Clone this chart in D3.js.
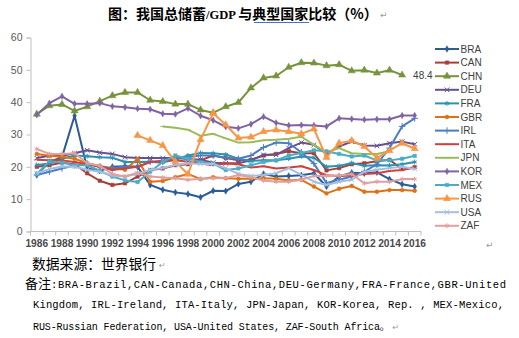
<!DOCTYPE html>
<html><head><meta charset="utf-8">
<script src="https://cdn.jsdelivr.net/npm/d3@7"></script>
<style>html,body{margin:0;padding:0;background:#fff}svg{display:block}</style>
</head><body>
<svg id="c" width="519" height="338"></svg>
<script>
const years = [1986,1987,1988,1989,1990,1991,1992,1993,1994,1995,1996,1997,1998,1999,2000,2001,2002,2003,2004,2005,2006,2007,2008,2009,2010,2011,2012,2013,2014,2015,2016];
const yTicks = [0,10,20,30,40,50,60];
const xTickLabels = [1986,1988,1990,1992,1994,1996,1998,2000,2002,2004,2006,2008,2010,2012,2014,2016];
const countries = ["BRA","CAN","CHN","DEU","FRA","GBR","IRL","ITA","JPN","KOR","MEX","RUS","USA","ZAF"];
const BRA = [17.5,21.5,23.0,35.8,19.5,18.8,20.0,20.2,20.0,14.4,12.9,12.1,11.6,10.6,12.6,12.5,14.7,15.4,17.8,17.0,17.2,17.4,18.0,13.9,17.0,18.2,18.0,18.3,16.2,14.6,13.9];
const CAN = [20.0,20.5,21.3,20.8,18.0,15.7,14.4,14.9,17.0,19.0,19.5,20.5,20.8,22.0,23.5,22.7,22.0,22.2,23.5,24.0,24.8,24.2,24.2,18.9,19.6,20.8,21.1,21.7,22.2,19.3,19.9];
const CHN = [36.3,38.9,39.3,37.3,38.6,40.3,42.0,43.0,43.0,40.6,40.2,39.4,39.4,37.6,36.7,38.6,39.9,44.4,47.5,48.1,50.8,52.2,52.1,51.3,51.6,49.7,49.9,49.0,49.9,48.4,null];
const DEU = [22.7,23.4,23.4,24.2,25.1,24.4,24.0,23.0,22.7,22.7,22.7,22.7,22.4,22.2,21.3,21.1,21.1,22.0,23.7,23.7,25.8,27.5,26.8,24.0,26.3,27.8,26.6,26.5,27.3,27.8,27.0];
const FRA = [20.6,21.0,22.5,23.5,23.3,23.0,22.8,21.5,21.5,21.6,21.3,22.3,23.5,24.3,24.2,23.8,22.5,21.8,22.0,22.0,22.5,23.2,22.8,20.0,20.3,21.2,20.3,20.5,20.4,20.8,21.5];
const GBR = [24.0,23.4,23.1,22.5,21.1,20.3,19.6,19.1,22.4,15.4,15.6,16.8,17.8,16.2,16.8,16.5,16.3,16.3,16.5,16.3,15.8,16.0,13.9,11.8,13.2,14.1,12.3,12.3,12.8,12.8,12.6];
const IRL = [17.5,18.5,19.5,20.5,21.0,20.0,19.5,20.0,20.0,21.5,21.8,22.5,23.0,23.5,23.5,22.8,22.5,23.5,26.0,27.5,27.3,24.5,21.0,15.0,16.0,17.0,18.5,20.8,25.8,32.5,35.0];
const ITA = [22.2,22.0,22.0,21.5,20.8,20.0,19.0,19.5,20.0,21.5,21.8,22.0,21.6,21.0,20.5,21.0,20.8,19.8,20.2,19.5,19.8,20.2,19.0,17.4,17.2,17.3,17.8,18.0,18.7,19.0,19.8];
const JPN = [null,null,null,null,null,null,null,null,null,null,32.5,32.1,31.5,29.6,30.2,28.8,27.5,27.6,28.2,28.4,28.7,29.3,26.8,24.5,25.8,24.2,24.0,24.0,24.8,null,null];
const KOR = [36.1,39.7,41.8,39.5,39.5,39.7,38.7,38.4,38.0,37.8,36.4,36.3,38.1,35.8,34.4,32.4,31.9,33.2,35.5,33.6,32.8,32.9,32.8,32.5,35.0,34.8,34.6,34.7,34.7,35.9,35.9];
const MEX = [17.8,21.7,21.3,20.5,20.5,18.8,17.0,15.8,15.3,18.5,21.5,23.5,22.5,21.5,21.0,19.0,19.5,20.5,21.5,22.0,23.5,24.3,25.1,24.8,24.0,23.2,23.5,22.0,22.0,22.5,23.4];
const RUS = [null,null,null,null,null,null,null,null,29.7,28.2,26.6,21.6,17.7,28.4,36.6,33.0,28.9,29.2,30.9,31.4,30.9,30.2,31.7,22.9,27.3,28.1,26.3,22.7,25.0,27.3,25.6];
const USA = [18.0,19.3,20.1,20.0,19.1,18.5,17.3,17.0,17.8,19.1,19.6,20.6,21.1,20.9,20.9,19.6,17.8,17.2,17.5,18.0,19.6,17.5,15.4,14.4,15.4,16.0,18.5,19.1,19.6,20.0,19.3];
const ZAF = [25.5,24.0,24.0,24.2,21.1,20.3,17.8,17.0,18.2,17.0,16.7,16.5,16.0,16.3,16.5,16.5,17.5,16.8,15.8,15.4,15.4,16.0,17.2,17.2,17.3,17.8,14.9,15.4,15.4,16.2,16.2];
const seriesValues = [BRA,CAN,CHN,DEU,FRA,GBR,IRL,ITA,JPN,KOR,MEX,RUS,USA,ZAF];
const colors = ["#2C5C96","#A63F3B","#77933C","#67508F","#2B93AD","#DB7216","#4A7EC2","#D0403C","#9BBB59","#8064A2","#4BACC6","#F79646","#A5BEDF","#E0A09F"];
const lastLabel = "48.4";

const symDash = {draw(ctx,size){const w=Math.sqrt(size)*1.2;ctx.moveTo(-w/2,0);ctx.lineTo(w/2,0);}};
const markers = [d3.symbolDiamond,d3.symbolSquare,d3.symbolTriangle,d3.symbolTimes,d3.symbolAsterisk,d3.symbolCircle,d3.symbolPlus,symDash,symDash,d3.symbolDiamond,d3.symbolSquare,d3.symbolTriangle,d3.symbolTimes,d3.symbolAsterisk];
const strokeMarker = m => (m===d3.symbolTimes||m===d3.symbolAsterisk||m===d3.symbolPlus||m===symDash);

const svg = d3.select("#c");
const x = d3.scalePoint().domain(years).range([30.5,421]).padding(0.5);
const y = d3.scaleLinear().domain([0,60]).range([231.5,37.5]);

// Title
const title = svg.append("text").attr("x",108).attr("y",19)
  .attr("font-family","'Noto Sans CJK SC'").attr("font-weight","bold").attr("font-size",14).attr("fill","#000");
title.append("tspan").text("图：我国总储蓄");
title.append("tspan").attr("font-family","'Liberation Serif'").attr("font-size",12.5).text("/GDP ");
title.append("tspan").text("与典型国家比较（%）");
svg.append("line").attr("x1",254).attr("x2",309).attr("y1",22.5).attr("y2",22.5).attr("stroke","#4472C4").attr("stroke-width",1);
svg.append("text").attr("x",380).attr("y",18).attr("font-size",9).attr("fill","#999").attr("font-family","'DejaVu Sans'").text("↵");

// Y axis
const yAxis = svg.append("g").attr("transform","translate(30.5,0)")
  .call(d3.axisLeft(y).tickValues(yTicks).tickSize(4).tickPadding(4));
yAxis.select(".domain").attr("stroke","#BFBFBF");
yAxis.selectAll(".tick line").attr("stroke","#BFBFBF");
yAxis.selectAll(".tick text").attr("font-family","'Liberation Sans'").attr("font-size",10.5).attr("fill","#595959");

// X axis
const xg = svg.append("g");
xg.append("line").attr("x1",30.5).attr("x2",421).attr("y1",231.5).attr("y2",231.5).attr("stroke","#BFBFBF");
const step = x.step();
xg.selectAll("line.tk").data(years.concat([null])).join("line").attr("class","tk")
  .attr("x1",(d,i)=>30.5+i*step).attr("x2",(d,i)=>30.5+i*step)
  .attr("y1",231.5).attr("y2",235.5).attr("stroke","#BFBFBF");
xg.selectAll("text").data(xTickLabels).join("text")
  .attr("x",d=>x(d)).attr("y",246.5).attr("text-anchor","middle")
  .attr("font-family","'Liberation Sans'").attr("font-weight","bold").attr("font-size",10.2).attr("fill","#4a4a4a")
  .text(d=>d);

// Lines
const line = d3.line().defined(d=>d[1]!==null).x(d=>x(d[0])).y(d=>y(d[1]));
countries.forEach((c,i)=>{
  const pts = years.map((yr,j)=>[yr,seriesValues[i][j]]);
  const g = svg.append("g");
  g.append("path").datum(pts).attr("d",line).attr("fill","none").attr("stroke",colors[i]).attr("stroke-width",2).attr("stroke-linejoin","round");
  const m = markers[i];
  const sm = strokeMarker(m);
  g.selectAll("path.m").data(pts.filter(d=>d[1]!==null)).join("path").attr("class","m")
    .attr("transform",d=>`translate(${x(d[0])},${y(d[1])})`)
    .attr("d",d3.symbol().type(m).size(sm?16:(m===d3.symbolTriangle?22:12)))
    .attr("fill",sm?"none":colors[i]).attr("stroke",colors[i]).attr("stroke-width",sm?1:0.5);
});

// Data label
svg.append("text").attr("x",x(2015)+11).attr("y",y(48.4)+3.5)
  .attr("font-family","'Liberation Sans'").attr("font-size",10).attr("fill","#404040").text(lastLabel);

// Legend
const lg = svg.append("g");
countries.forEach((c,i)=>{
  const yy = 49 + i*13.6;
  lg.append("line").attr("x1",435).attr("x2",459).attr("y1",yy).attr("y2",yy).attr("stroke",colors[i]).attr("stroke-width",2);
  const m = markers[i]; const sm = strokeMarker(m);
  lg.append("path").attr("transform",`translate(447,${yy})`)
    .attr("d",d3.symbol().type(m).size(sm?16:(m===d3.symbolTriangle?22:12)))
    .attr("fill",sm?"none":colors[i]).attr("stroke",colors[i]).attr("stroke-width",sm?1:0.5);
  lg.append("text").attr("x",460.5).attr("y",yy+3.6).attr("font-family","'Liberation Sans'").attr("font-size",10).attr("fill","#404040").text(c);
});
svg.append("text").attr("x",486).attr("y",248).attr("font-size",9).attr("fill","#999").attr("font-family","'DejaVu Sans'").text("↵");

// Footnotes
svg.append("text").attr("x",32).attr("y",269).attr("font-family","'Noto Sans CJK SC'").attr("font-size",13.8).attr("fill","#000").text("数据来源：世界银行");
svg.append("text").attr("x",159).attr("y",268).attr("font-size",8).attr("fill","#999").attr("font-family","'DejaVu Sans'").text("↵");
const mono = "'Liberation Mono'";
const n1 = svg.append("text").attr("x",25).attr("y",288).attr("font-size",10.5).attr("fill","#000");
n1.append("tspan").attr("font-family","'Noto Sans CJK SC'").attr("font-size",13).text("备注");
n1.append("tspan").attr("font-family",mono).attr("textLength",455).attr("lengthAdjust","spacing").text(":BRA-Brazil,CAN-Canada,CHN-China,DEU-Germany,FRA-France,GBR-United");
svg.append("text").attr("x",33).attr("y",308).attr("font-family",mono).attr("font-size",10.5).attr("fill","#000")
  .attr("textLength",471).attr("lengthAdjust","spacing")
  .text("Kingdom, IRL-Ireland, ITA-Italy, JPN-Japan, KOR-Korea, Rep. , MEX-Mexico,");
const n3 = svg.append("text").attr("x",33).attr("y",330).attr("font-family",mono).attr("font-size",10).attr("fill","#000");
n3.append("tspan").attr("textLength",347).attr("lengthAdjust","spacing").text("RUS-Russian Federation, USA-United States, ZAF-South Africa");
n3.append("tspan").attr("font-family","'Noto Sans CJK SC'").text("。");
n3.append("tspan").attr("font-family","'DejaVu Sans'").attr("font-size",8).attr("fill","#999").text(" ↵");
</script>
</body></html>
